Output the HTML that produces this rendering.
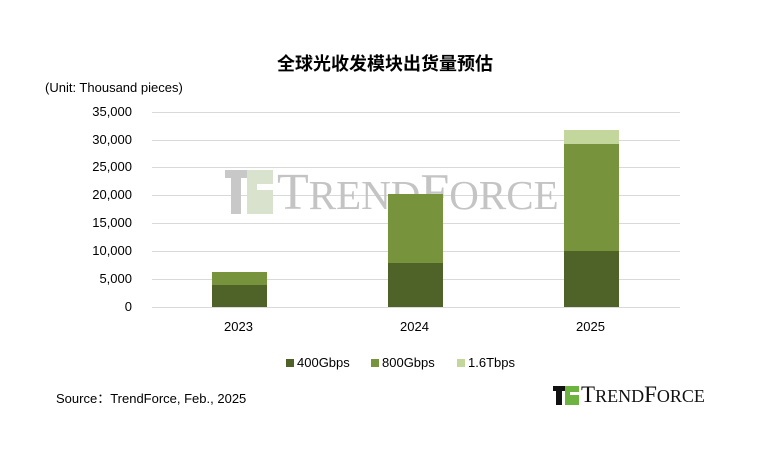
<!DOCTYPE html><html><head><meta charset="utf-8"><style>
body{margin:0;width:770px;height:456px;background:#fff;position:relative;overflow:hidden;font-family:"Liberation Sans","Noto Sans CJK SC",sans-serif;color:#000}
.a{position:absolute}
.g{position:absolute;left:152px;width:528px;height:1px;background:#d9d9d9}
.y{position:absolute;left:60px;width:72px;text-align:right;font-size:13px}
.b{position:absolute;width:55px}
</style></head><body>
<div class="a" style="left:0;width:770px;top:50px;text-align:center;font-size:18px;font-weight:bold;font-family:'Noto Sans CJK SC',sans-serif">全球光收发模块出货量预估</div>
<div class="a" style="left:45px;top:80px;font-size:13px">(Unit: Thousand pieces)</div>
<div class="g" style="top:112px"></div><div class="g" style="top:140px"></div><div class="g" style="top:167px"></div><div class="g" style="top:195px"></div><div class="g" style="top:223px"></div><div class="g" style="top:251px"></div><div class="g" style="top:279px"></div><div class="g" style="top:307px"></div>
<div class="y" style="top:104px">35,000</div><div class="y" style="top:132px">30,000</div><div class="y" style="top:159px">25,000</div><div class="y" style="top:187px">20,000</div><div class="y" style="top:215px">15,000</div><div class="y" style="top:243px">10,000</div><div class="y" style="top:271px">5,000</div><div class="y" style="top:299px">0</div>
<div class="a" style="left:225px;top:170px;width:50px;height:46px">
<div class="a" style="left:0;top:0;width:26px;height:8px;background:#c8c8c8"></div><div class="a" style="left:6px;top:8px;width:10px;height:36px;background:#c8c8c8"></div><div class="a" style="left:22px;top:0;width:26px;height:44px;background:#d8e2cc"></div><div class="a" style="left:32px;top:14px;width:16px;height:6px;background:#fff"></div></div>
<div class="a" style="left:277px;top:163px;font-family:'Liberation Serif',serif;font-size:52px;color:#c4c4c4">T<span style="font-size:41px">REND</span>F<span style="font-size:41px">ORCE</span></div>
<div class="b" style="left:212px;top:272px;height:13px;background:#77933c"></div><div class="b" style="left:212px;top:285px;height:22px;background:#4f6228"></div>
<div class="b" style="left:388px;top:194px;height:69px;background:#77933c"></div><div class="b" style="left:388px;top:263px;height:44px;background:#4f6228"></div>
<div class="b" style="left:564px;top:130px;height:14px;background:#c3d69b"></div><div class="b" style="left:564px;top:144px;height:107px;background:#77933c"></div><div class="b" style="left:564px;top:251px;height:56px;background:#4f6228"></div>
<div class="a" style="left:224px;top:319px;font-size:13px">2023</div><div class="a" style="left:400px;top:319px;font-size:13px">2024</div><div class="a" style="left:576px;top:319px;font-size:13px">2025</div>
<div class="a" style="left:286px;top:359px;width:8px;height:8px;background:#4f6228"></div><div class="a" style="left:297px;top:355px;font-size:13px">400Gbps</div>
<div class="a" style="left:371px;top:359px;width:8px;height:8px;background:#77933c"></div><div class="a" style="left:382px;top:355px;font-size:13px">800Gbps</div>
<div class="a" style="left:457px;top:359px;width:8px;height:8px;background:#c3d69b"></div><div class="a" style="left:468px;top:355px;font-size:13px">1.6Tbps</div>
<div class="a" style="left:56px;top:388px;font-size:13px">Source：TrendForce, Feb., 2025</div>
<div class="a" style="left:553px;top:384px;width:26px;height:22px">
<div class="a" style="left:0;top:2px;width:13px;height:5px;background:#111"></div><div class="a" style="left:3px;top:7px;width:6px;height:14px;background:#111"></div><div class="a" style="left:12px;top:2px;width:14px;height:19px;background:#6cb33f"></div><div class="a" style="left:17px;top:8px;width:9px;height:3px;background:#fff"></div></div>
<div class="a" style="left:581px;top:382px;font-family:'Liberation Serif',serif;font-size:23px;color:#111">T<span style="font-size:18px">REND</span>F<span style="font-size:18px">ORCE</span></div>
</body></html>
